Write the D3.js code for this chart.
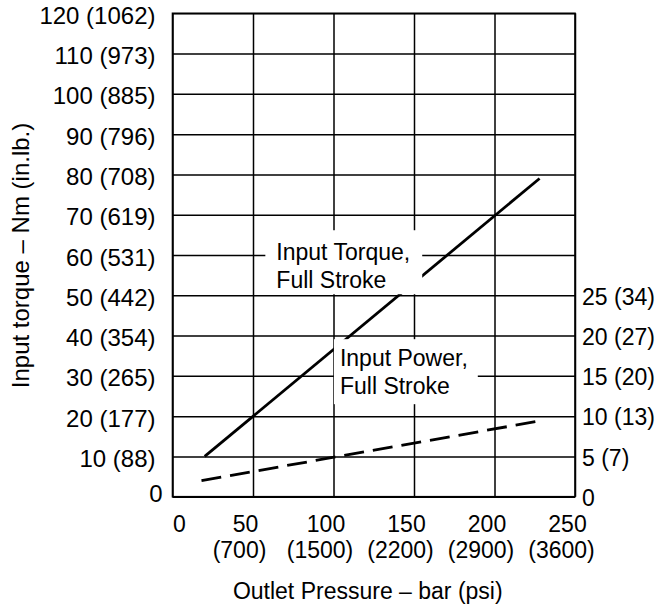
<!DOCTYPE html>
<html>
<head>
<meta charset="utf-8">
<script src="https://cdn.jsdelivr.net/npm/d3@7"></script>
<style>
  html, body { margin: 0; padding: 0; background: #fff; }
  svg { display: block; }
  text { font-family: "Liberation Sans", Arial, Helvetica, sans-serif; fill: #000; }
</style>
</head>
<body>
<svg id="chart" width="659" height="605"></svg>
<script>
// ---- data ----
const pressureTicks = [0, 50, 100, 150, 200, 250];
const psiLabels = ["", "(700)", "(1500)", "(2200)", "(2900)", "(3600)"];
const torqueTicks = [0, 10, 20, 30, 40, 50, 60, 70, 80, 90, 100, 110, 120];
const inlbLabels = ["", "(88)", "(177)", "(265)", "(354)", "(442)", "(531)", "(619)", "(708)", "(796)", "(885)", "(973)", "(1062)"];
const powerTicks = [0, 5, 10, 15, 20, 25];
const hpLabels = ["", "(7)", "(13)", "(20)", "(27)", "(34)"];
const torquePressure = [20, 228];
const torqueValues = [10, 79];
const powerPressure = [18, 228];
const powerValues = [2.0, 9.4];
const xTitle = "Outlet Pressure \u2013 bar (psi)";
const yTitle = "Input torque \u2013 Nm (in.lb.)";
const torqueLabel = ["Input Torque,", "Full Stroke"];
const powerLabel = ["Input Power,", "Full Stroke"];

// ---- layout ----
const L = 172.5, R = 575, T = 13.3, B = 496.7;
const FS = 23, FSY = 24;
const svg = d3.select("#chart");

const x = d3.scaleLinear().domain([0, 250]).range([L, R]);
const y = d3.scaleLinear().domain([0, 120]).range([B, T]);
const yPow = d3.scaleLinear().domain([0, 30]).range([B, y(60)]);

// gridlines via axes
const gy = svg.append("g").attr("transform", `translate(${L},0)`)
  .call(d3.axisLeft(y).tickValues(torqueTicks).tickSize(-(R - L)).tickPadding(17)
    .tickFormat((d, i) => i === 0 ? "0" : `${d} ${inlbLabels[i]}`));
gy.select(".domain").remove();
gy.selectAll(".tick line").attr("stroke", "#000").attr("stroke-width", 1.5);
gy.selectAll(".tick text").attr("font-size", FSY).attr("font-family", "Liberation Sans, Arial, sans-serif")
  .attr("fill", "#000")
  .attr("x", (d, i) => i === 0 ? -10 : -17)
  .attr("dy", (d, i) => i === 0 ? "0.18em" : "0.42em");

const gx = svg.append("g").attr("transform", `translate(0,${B})`)
  .call(d3.axisBottom(x).tickValues(pressureTicks).tickSize(-(B - T)).tickPadding(0)
    .tickFormat(d => String(d)));
gx.select(".domain").remove();
gx.selectAll(".tick line").attr("stroke", "#000").attr("stroke-width", 1.5);
gx.selectAll(".tick text").attr("font-size", FS).attr("font-family", "Liberation Sans, Arial, sans-serif")
  .attr("fill", "#000")
  .attr("y", 35).attr("dy", 0)
  .attr("text-anchor", (d, i) => i === 0 ? "start" : "middle")
  .attr("x", (d, i) => i === 0 ? 0 : -8);
gx.selectAll(".tick").append("text")
  .attr("font-size", FS).attr("font-family", "Liberation Sans, Arial, sans-serif")
  .attr("fill", "#000").attr("text-anchor", "middle")
  .attr("x", -14).attr("y", 61)
  .text((d, i) => psiLabels[i]);

// right axis (power)
const gr = svg.append("g").attr("transform", `translate(${R},0)`)
  .call(d3.axisRight(yPow).tickValues(powerTicks).tickSize(0).tickPadding(7)
    .tickFormat((d, i) => i === 0 ? "0" : `${d} ${hpLabels[i]}`));
gr.select(".domain").remove();
gr.selectAll(".tick text").attr("font-size", FS).attr("font-family", "Liberation Sans, Arial, sans-serif")
  .attr("fill", "#000").attr("dy", "0.38em");

// border
svg.append("rect").attr("x", L).attr("y", T).attr("width", R - L).attr("height", B - T)
  .attr("fill", "none").attr("stroke", "#000").attr("stroke-width", 1.6);

// annotation labels with white background
function label(lines, x0, y0, pad) {
  const g = svg.append("g");
  const bg = g.append("rect").attr("fill", "#fff");
  const t = g.append("g");
  lines.forEach((s, i) => {
    t.append("text").attr("x", x0).attr("y", y0 + i * 28).attr("font-size", FS).text(s);
  });
  const bb = t.node().getBBox();
  bg.attr("x", bb.x - pad[3]).attr("y", bb.y - pad[0])
    .attr("width", bb.width + pad[1] + pad[3]).attr("height", bb.height + pad[0] + pad[2]);
  return g;
}
const tl = label(torqueLabel, x(64.5), y(58.7), [9, 12, 1, 11]);
const pl = label(powerLabel, x(104), y(32.4), [6, 10, 5, 6]);

// lines
const line = d3.line();
svg.append("path")
  .attr("d", line(torquePressure.map((p, i) => [x(p), y(torqueValues[i])])))
  .attr("fill", "none").attr("stroke", "#000").attr("stroke-width", 2.8);
svg.append("path")
  .attr("d", line(powerPressure.map((p, i) => [x(p), yPow(powerValues[i])])))
  .attr("fill", "none").attr("stroke", "#000").attr("stroke-width", 2.8)
  .attr("stroke-dasharray", "20,9");

// bring labels' text above lines
tl.raise(); pl.raise();

// axis titles
svg.append("text").attr("x", (L + R) / 2 - 6).attr("y", 599).attr("text-anchor", "middle")
  .attr("font-size", FS).text(xTitle);
svg.append("text").attr("transform", `translate(29,255.5) rotate(-90)`).attr("text-anchor", "middle")
  .attr("font-size", FSY).text(yTitle);
</script>
</body>
</html>
